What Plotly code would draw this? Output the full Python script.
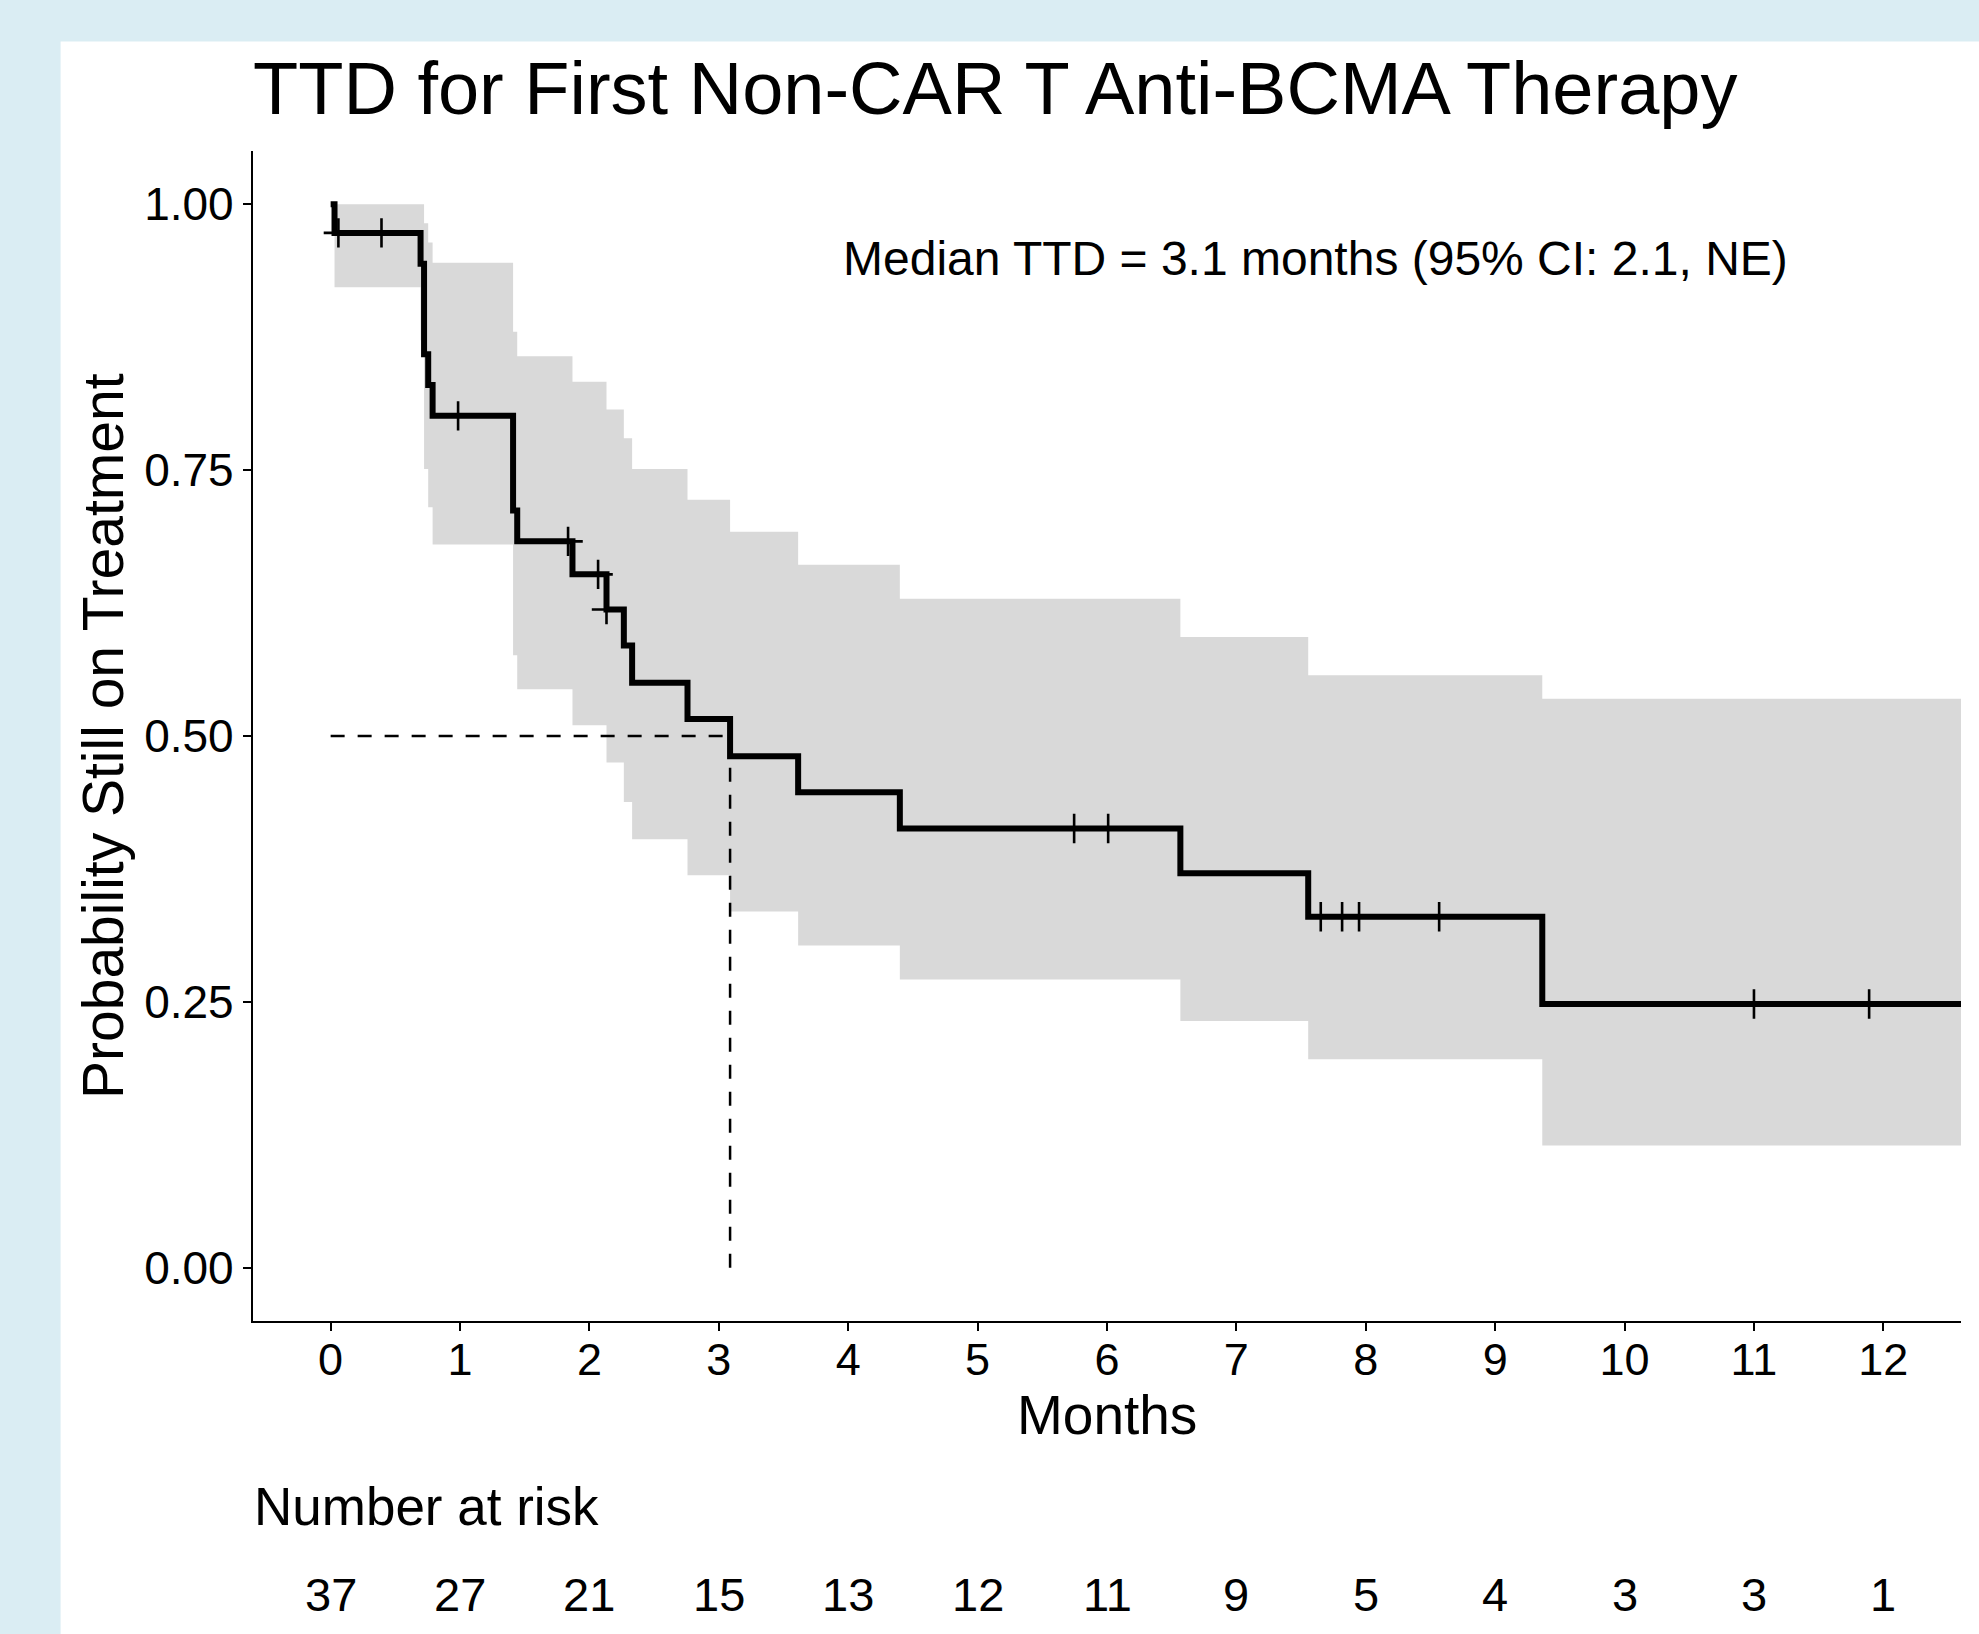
import plotly.graph_objects as go

# ---------------- data ----------------
# Kaplan-Meier steps: time (months) where the estimate changes, and the value after the change
km_time = [0, 0.03, 0.695, 0.722, 0.754, 0.788, 1.41, 1.442, 1.869, 2.132, 2.266, 2.33,
           2.758, 3.087, 3.613, 4.399, 6.567, 7.555, 9.364, 12.6]
km_surv = [1.0, 0.973, 0.944, 0.859, 0.830, 0.801, 0.712, 0.683, 0.652, 0.619, 0.585, 0.550,
           0.516, 0.481, 0.447, 0.413, 0.371, 0.330, 0.248, 0.248]
ci_upper = [1.0, 1.0, 1.0, 0.982, 0.964, 0.945, 0.880, 0.857, 0.833, 0.807, 0.780, 0.751,
            0.722, 0.692, 0.661, 0.629, 0.593, 0.557, 0.535, 0.535]
ci_lower = [1.0, 0.922, 0.872, 0.751, 0.715, 0.680, 0.576, 0.544, 0.510, 0.475, 0.438, 0.403,
            0.369, 0.335, 0.303, 0.271, 0.232, 0.196, 0.115, 0.115]

# censoring marks
cens_time = [0.06, 0.393, 0.985, 1.835, 2.067, 2.132, 5.746, 6.009, 7.652, 7.817, 7.948,
             8.567, 11.0, 11.89]
cens_surv = [0.973, 0.973, 0.801, 0.683, 0.652, 0.619, 0.413, 0.413, 0.330, 0.330, 0.330,
             0.330, 0.248, 0.248]

median_ttd = 3.087
median_level = 0.5

x_ticks = list(range(0, 13))
y_ticks = [0, 0.25, 0.5, 0.75, 1.0]
y_tick_text = ["0.00", "0.25", "0.50", "0.75", "1.00"]

risk_times = list(range(0, 13))
risk_n = [37, 27, 21, 15, 13, 12, 11, 9, 5, 4, 3, 3, 1]

title_text = "TTD for First Non-CAR T Anti-BCMA Therapy"
median_text = "Median TTD = 3.1 months (95% CI: 2.1, NE)"
x_title = "Months"
y_title = "Probability Still on Treatment"
risk_title = "Number at risk"

# ---------------- layout geometry (pixels) ----------------
W, H = 1979, 1634
L, R, T, B = 253, 1961, 151, 1321  # plot area edges
FONT = "Liberation Sans, Arial, sans-serif"


def px_x(px):
    return (px - L) / (R - L)


def px_y(py):
    return (B - py) / (B - T)


fig = go.Figure()

# confidence band
fig.add_trace(go.Scatter(x=km_time, y=ci_lower, mode="lines", line=dict(width=0, shape="hv"),
                         hoverinfo="skip", showlegend=False))
fig.add_trace(go.Scatter(x=km_time, y=ci_upper, mode="lines", line=dict(width=0, shape="hv"),
                         fill="tonexty", fillcolor="#D9D9D9", hoverinfo="skip", showlegend=False))

# median reference lines
fig.add_trace(go.Scatter(x=[0, median_ttd], y=[median_level, median_level], mode="lines",
                         line=dict(color="black", width=2.5, dash="14px,13px"), showlegend=False))
fig.add_trace(go.Scatter(x=[median_ttd, median_ttd], y=[0, median_level], mode="lines",
                         line=dict(color="black", width=2.5, dash="14px,13px"), showlegend=False))

# KM curve
fig.add_trace(go.Scatter(x=km_time, y=km_surv, mode="lines",
                         line=dict(color="black", width=6, shape="hv"), showlegend=False))

# censor marks
fig.add_trace(go.Scatter(x=cens_time, y=cens_surv, mode="markers",
                         marker=dict(symbol="cross-thin", size=21, color="black",
                                     line=dict(color="black", width=2.6)),
                         showlegend=False))

shapes = [
    dict(type="rect", xref="paper", yref="paper", x0=px_x(60.6), x1=px_x(2100),
         y0=px_y(1800), y1=px_y(41.6), fillcolor="white", line=dict(width=0), layer="below"),
]

annotations = [
    dict(text=title_text, xref="paper", yref="paper", x=px_x(251), y=px_y(89),
         xanchor="left", yanchor="middle", showarrow=False,
         font=dict(family=FONT, size=74, color="black")),
    dict(text=median_text, xref="x", yref="y", x=7.61, y=0.949,
         xanchor="center", yanchor="middle", showarrow=False,
         font=dict(family=FONT, size=48, color="black")),
    dict(text=x_title, xref="paper", yref="paper", x=0.5, y=px_y(1415),
         xanchor="center", yanchor="middle", showarrow=False,
         font=dict(family=FONT, size=55, color="black")),
    dict(text=y_title, xref="paper", yref="paper", x=px_x(103), y=0.5, textangle=-90,
         xanchor="center", yanchor="middle", showarrow=False,
         font=dict(family=FONT, size=57, color="black")),
    dict(text=risk_title, xref="paper", yref="paper", x=px_x(252), y=px_y(1507),
         xanchor="left", yanchor="middle", showarrow=False,
         font=dict(family=FONT, size=53, color="black")),
]
for t, n in zip(risk_times, risk_n):
    annotations.append(dict(text=str(n), xref="x", yref="paper", x=t, y=px_y(1594),
                            xanchor="center", yanchor="middle", showarrow=False,
                            font=dict(family=FONT, size=47, color="black")))

fig.update_layout(
    width=W, height=H,
    margin=dict(l=L, r=W - R, t=T, b=H - B, pad=0),
    paper_bgcolor="#DAEDF3",
    plot_bgcolor="rgba(0,0,0,0)",
    shapes=shapes,
    annotations=annotations,
    showlegend=False,
    font=dict(family=FONT, color="black"),
)
fig.update_xaxes(range=[-0.6, 12.6], tickvals=x_ticks, ticks="outside", ticklen=8, tickwidth=2.2,
                 tickcolor="black", showline=True, linecolor="black", linewidth=2.2,
                 showgrid=False, zeroline=False, ticklabelstandoff=-10,
                 tickfont=dict(family=FONT, size=45, color="black"))
fig.update_yaxes(range=[-0.05, 1.05], tickvals=y_ticks, ticktext=y_tick_text, ticks="outside",
                 ticklen=8, tickwidth=2.2, tickcolor="black", showline=True, linecolor="black",
                 linewidth=2.2, showgrid=False, zeroline=False,
                 tickfont=dict(family=FONT, size=46, color="black"))

fig.write_html("out.html", config={"displayModeBar": False},
               post_script="document.body.style.margin='0';document.body.style.overflow='hidden';")
